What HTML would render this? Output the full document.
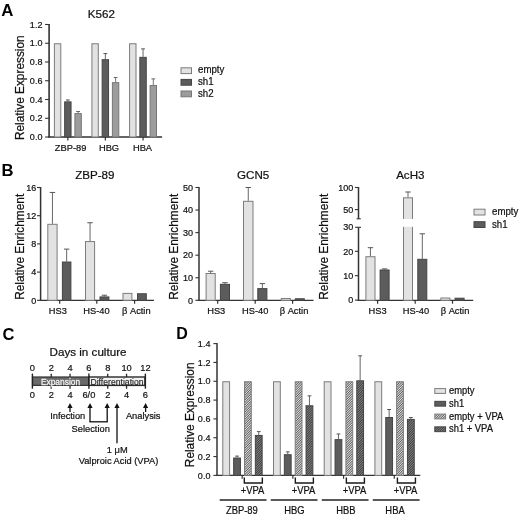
<!DOCTYPE html>
<html><head><meta charset="utf-8"><title>Figure</title>
<style>
html,body{margin:0;padding:0;background:#fff;}
body{width:520px;height:518px;overflow:hidden;font-family:"Liberation Sans",sans-serif;}
svg{display:block;font-family:"Liberation Sans",sans-serif;filter:blur(0.35px);}
</style></head><body>
<svg width="520" height="518" viewBox="0 0 520 518">
<defs>
<pattern id="hE" patternUnits="userSpaceOnUse" width="1.7" height="1.7" patternTransform="rotate(-45)">
<rect width="1.7" height="1.7" fill="#e2e2e2"/><rect width="1.7" height="0.85" fill="#5e5e5e"/>
</pattern>
<pattern id="hS" patternUnits="userSpaceOnUse" width="1.7" height="1.7" patternTransform="rotate(-45)">
<rect width="1.7" height="1.7" fill="#8a8a8a"/><rect width="1.7" height="0.9" fill="#3a3a3a"/>
</pattern>
</defs>
<rect width="520" height="518" fill="#fff"/>
<text transform="translate(1.3 15.5)" font-size="16.8" text-anchor="start" font-weight="bold" fill="#000">A</text>
<text transform="translate(101.3 18.3)" font-size="11.6" text-anchor="middle" font-weight="normal" fill="#111111" stroke="#111111" stroke-width="0.22">K562</text>
<line x1="49.10" y1="24.00" x2="49.10" y2="137.60" stroke="#333333" stroke-width="1.6"/>
<line x1="48.30" y1="137.00" x2="162.10" y2="137.00" stroke="#333333" stroke-width="1.3"/>
<line x1="45.10" y1="137.00" x2="49.10" y2="137.00" stroke="#333333" stroke-width="1.1"/>
<text transform="translate(42.4 140.2) scale(0.94 1)" font-size="9.6" text-anchor="end" font-weight="normal" fill="#111111" stroke="#111111" stroke-width="0.22">0.0</text>
<line x1="45.10" y1="118.25" x2="49.10" y2="118.25" stroke="#333333" stroke-width="1.1"/>
<text transform="translate(42.4 121.45) scale(0.94 1)" font-size="9.6" text-anchor="end" font-weight="normal" fill="#111111" stroke="#111111" stroke-width="0.22">0.2</text>
<line x1="45.10" y1="99.50" x2="49.10" y2="99.50" stroke="#333333" stroke-width="1.1"/>
<text transform="translate(42.4 102.7) scale(0.94 1)" font-size="9.6" text-anchor="end" font-weight="normal" fill="#111111" stroke="#111111" stroke-width="0.22">0.4</text>
<line x1="45.10" y1="80.75" x2="49.10" y2="80.75" stroke="#333333" stroke-width="1.1"/>
<text transform="translate(42.4 83.95) scale(0.94 1)" font-size="9.6" text-anchor="end" font-weight="normal" fill="#111111" stroke="#111111" stroke-width="0.22">0.6</text>
<line x1="45.10" y1="62.00" x2="49.10" y2="62.00" stroke="#333333" stroke-width="1.1"/>
<text transform="translate(42.4 65.2) scale(0.94 1)" font-size="9.6" text-anchor="end" font-weight="normal" fill="#111111" stroke="#111111" stroke-width="0.22">0.8</text>
<line x1="45.10" y1="43.25" x2="49.10" y2="43.25" stroke="#333333" stroke-width="1.1"/>
<text transform="translate(42.4 46.45) scale(0.94 1)" font-size="9.6" text-anchor="end" font-weight="normal" fill="#111111" stroke="#111111" stroke-width="0.22">1.0</text>
<line x1="45.10" y1="24.50" x2="49.10" y2="24.50" stroke="#333333" stroke-width="1.1"/>
<text transform="translate(42.4 27.699999999999985) scale(0.94 1)" font-size="9.6" text-anchor="end" font-weight="normal" fill="#111111" stroke="#111111" stroke-width="0.22">1.2</text>
<text transform="translate(23.9 87.7) rotate(-90) scale(0.98 1)" font-size="12.1" text-anchor="middle" font-weight="normal" fill="#111111" stroke="#111111" stroke-width="0.22">Relative Expression</text>
<rect x="54.40" y="43.75" width="6.40" height="93.25" fill="#e2e2e2" stroke="#7c7c7c" stroke-width="1"/>
<line x1="67.85" y1="101.38" x2="67.85" y2="99.97" stroke="#555" stroke-width="0.9"/>
<line x1="65.95" y1="99.97" x2="69.75" y2="99.97" stroke="#555" stroke-width="1"/>
<rect x="64.65" y="101.88" width="6.40" height="35.12" fill="#5c5c5c" stroke="#444444" stroke-width="1"/>
<line x1="78.10" y1="113.09" x2="78.10" y2="111.50" stroke="#666" stroke-width="0.9"/>
<line x1="76.20" y1="111.50" x2="80.00" y2="111.50" stroke="#666" stroke-width="1"/>
<rect x="74.90" y="113.59" width="6.40" height="23.41" fill="#9c9c9c" stroke="#777777" stroke-width="1"/>
<line x1="67.85" y1="137.00" x2="67.85" y2="140.50" stroke="#333" stroke-width="1.2"/>
<text transform="translate(70.6 150.7) scale(0.94 1)" font-size="9.9" text-anchor="middle" font-weight="normal" fill="#111111" stroke="#111111" stroke-width="0.22">ZBP-89</text>
<rect x="91.90" y="43.75" width="6.40" height="93.25" fill="#e2e2e2" stroke="#7c7c7c" stroke-width="1"/>
<line x1="105.35" y1="59.19" x2="105.35" y2="53.56" stroke="#555" stroke-width="0.9"/>
<line x1="103.45" y1="53.56" x2="107.25" y2="53.56" stroke="#555" stroke-width="1"/>
<rect x="102.15" y="59.69" width="6.40" height="77.31" fill="#5c5c5c" stroke="#444444" stroke-width="1"/>
<line x1="115.60" y1="82.16" x2="115.60" y2="77.47" stroke="#666" stroke-width="0.9"/>
<line x1="113.70" y1="77.47" x2="117.50" y2="77.47" stroke="#666" stroke-width="1"/>
<rect x="112.40" y="82.66" width="6.40" height="54.34" fill="#9c9c9c" stroke="#777777" stroke-width="1"/>
<line x1="105.35" y1="137.00" x2="105.35" y2="140.50" stroke="#333" stroke-width="1.2"/>
<text transform="translate(109.0 150.7) scale(0.94 1)" font-size="9.9" text-anchor="middle" font-weight="normal" fill="#111111" stroke="#111111" stroke-width="0.22">HBG</text>
<rect x="129.60" y="43.75" width="6.40" height="93.25" fill="#e2e2e2" stroke="#7c7c7c" stroke-width="1"/>
<line x1="143.05" y1="56.84" x2="143.05" y2="48.88" stroke="#555" stroke-width="0.9"/>
<line x1="141.15" y1="48.88" x2="144.95" y2="48.88" stroke="#555" stroke-width="1"/>
<rect x="139.85" y="57.34" width="6.40" height="79.66" fill="#5c5c5c" stroke="#444444" stroke-width="1"/>
<line x1="153.30" y1="84.97" x2="153.30" y2="78.88" stroke="#666" stroke-width="0.9"/>
<line x1="151.40" y1="78.88" x2="155.20" y2="78.88" stroke="#666" stroke-width="1"/>
<rect x="150.10" y="85.47" width="6.40" height="51.53" fill="#9c9c9c" stroke="#777777" stroke-width="1"/>
<line x1="143.05" y1="137.00" x2="143.05" y2="140.50" stroke="#333" stroke-width="1.2"/>
<text transform="translate(142.5 150.7) scale(0.94 1)" font-size="9.9" text-anchor="middle" font-weight="normal" fill="#111111" stroke="#111111" stroke-width="0.22">HBA</text>
<rect x="181" y="67.80" width="10.5" height="5.8" fill="#e2e2e2" stroke="#7c7c7c" stroke-width="1"/>
<text transform="translate(198 73.39999999999999) scale(0.95 1)" font-size="10.2" text-anchor="start" font-weight="normal" fill="#111111" stroke="#111111" stroke-width="0.22">empty</text>
<rect x="181" y="79.40" width="10.5" height="5.8" fill="#5c5c5c" stroke="#444444" stroke-width="1"/>
<text transform="translate(198 84.99999999999999) scale(0.95 1)" font-size="10.2" text-anchor="start" font-weight="normal" fill="#111111" stroke="#111111" stroke-width="0.22">sh1</text>
<rect x="181" y="91.00" width="10.5" height="5.8" fill="#9c9c9c" stroke="#777777" stroke-width="1"/>
<text transform="translate(198 96.6) scale(0.95 1)" font-size="10.2" text-anchor="start" font-weight="normal" fill="#111111" stroke="#111111" stroke-width="0.22">sh2</text>
<text transform="translate(1.6 175.6)" font-size="16.6" text-anchor="start" font-weight="bold" fill="#000">B</text>
<text transform="translate(94.8 179.3)" font-size="11.6" text-anchor="middle" font-weight="normal" fill="#111111" stroke="#111111" stroke-width="0.22">ZBP-89</text>
<line x1="40.60" y1="187.00" x2="40.60" y2="300.90" stroke="#333333" stroke-width="1.5"/>
<line x1="39.90" y1="300.30" x2="154.00" y2="300.30" stroke="#333333" stroke-width="1.3"/>
<line x1="37.00" y1="300.30" x2="40.60" y2="300.30" stroke="#333333" stroke-width="1.1"/>
<text transform="translate(36.2 303.5) scale(0.94 1)" font-size="9.6" text-anchor="end" font-weight="normal" fill="#111111" stroke="#111111" stroke-width="0.22">0</text>
<line x1="37.00" y1="272.10" x2="40.60" y2="272.10" stroke="#333333" stroke-width="1.1"/>
<text transform="translate(36.2 275.3) scale(0.94 1)" font-size="9.6" text-anchor="end" font-weight="normal" fill="#111111" stroke="#111111" stroke-width="0.22">4</text>
<line x1="37.00" y1="243.90" x2="40.60" y2="243.90" stroke="#333333" stroke-width="1.1"/>
<text transform="translate(36.2 247.1) scale(0.94 1)" font-size="9.6" text-anchor="end" font-weight="normal" fill="#111111" stroke="#111111" stroke-width="0.22">8</text>
<line x1="37.00" y1="215.70" x2="40.60" y2="215.70" stroke="#333333" stroke-width="1.1"/>
<text transform="translate(36.2 218.89999999999998) scale(0.94 1)" font-size="9.6" text-anchor="end" font-weight="normal" fill="#111111" stroke="#111111" stroke-width="0.22">12</text>
<line x1="37.00" y1="187.50" x2="40.60" y2="187.50" stroke="#333333" stroke-width="1.1"/>
<text transform="translate(36.2 190.7) scale(0.94 1)" font-size="9.6" text-anchor="end" font-weight="normal" fill="#111111" stroke="#111111" stroke-width="0.22">16</text>
<text transform="translate(23.5 246.8) rotate(-90) scale(0.98 1)" font-size="12.1" text-anchor="middle" font-weight="normal" fill="#111111" stroke="#111111" stroke-width="0.22">Relative Enrichment</text>
<line x1="52.45" y1="223.81" x2="52.45" y2="192.44" stroke="#555" stroke-width="0.9"/>
<line x1="49.75" y1="192.44" x2="55.15" y2="192.44" stroke="#555" stroke-width="1"/>
<rect x="47.80" y="224.31" width="9.30" height="75.99" fill="#e2e2e2" stroke="#7c7c7c" stroke-width="1"/>
<line x1="66.65" y1="261.52" x2="66.65" y2="249.12" stroke="#555" stroke-width="0.9"/>
<line x1="63.95" y1="249.12" x2="69.35" y2="249.12" stroke="#555" stroke-width="1"/>
<rect x="62.40" y="262.02" width="8.50" height="38.28" fill="#5c5c5c" stroke="#444444" stroke-width="1"/>
<line x1="90.05" y1="241.08" x2="90.05" y2="222.75" stroke="#555" stroke-width="0.9"/>
<line x1="87.35" y1="222.75" x2="92.75" y2="222.75" stroke="#555" stroke-width="1"/>
<rect x="85.50" y="241.58" width="9.10" height="58.72" fill="#e2e2e2" stroke="#7c7c7c" stroke-width="1"/>
<line x1="104.45" y1="296.42" x2="104.45" y2="295.22" stroke="#555" stroke-width="0.9"/>
<line x1="101.75" y1="295.22" x2="107.15" y2="295.22" stroke="#555" stroke-width="1"/>
<rect x="100.00" y="296.92" width="8.90" height="3.38" fill="#5c5c5c" stroke="#444444" stroke-width="1"/>
<rect x="123.00" y="293.40" width="8.90" height="6.90" fill="#e2e2e2" stroke="#7c7c7c" stroke-width="1"/>
<rect x="137.50" y="293.75" width="8.80" height="6.55" fill="#5c5c5c" stroke="#444444" stroke-width="1"/>
<line x1="59.70" y1="300.30" x2="59.70" y2="303.70" stroke="#333" stroke-width="1.2"/>
<text transform="translate(57.8 314.3) scale(0.94 1)" font-size="9.9" text-anchor="middle" font-weight="normal" fill="#111111" stroke="#111111" stroke-width="0.22">HS3</text>
<line x1="96.80" y1="300.30" x2="96.80" y2="303.70" stroke="#333" stroke-width="1.2"/>
<text transform="translate(96.5 314.3) scale(0.94 1)" font-size="9.9" text-anchor="middle" font-weight="normal" fill="#111111" stroke="#111111" stroke-width="0.22">HS-40</text>
<line x1="134.60" y1="300.30" x2="134.60" y2="303.70" stroke="#333" stroke-width="1.2"/>
<text transform="translate(136.3 314.3) scale(0.94 1)" font-size="9.9" text-anchor="middle" font-weight="normal" fill="#111111" stroke="#111111" stroke-width="0.22">β Actin</text>
<text transform="translate(253.1 179.3)" font-size="11.6" text-anchor="middle" font-weight="normal" fill="#111111" stroke="#111111" stroke-width="0.22">GCN5</text>
<line x1="199.00" y1="187.00" x2="199.00" y2="300.90" stroke="#333333" stroke-width="1.5"/>
<line x1="198.30" y1="300.30" x2="313.50" y2="300.30" stroke="#333333" stroke-width="1.3"/>
<line x1="195.40" y1="300.30" x2="199.00" y2="300.30" stroke="#333333" stroke-width="1.1"/>
<text transform="translate(192.9 303.5) scale(0.94 1)" font-size="9.6" text-anchor="end" font-weight="normal" fill="#111111" stroke="#111111" stroke-width="0.22">0</text>
<line x1="195.40" y1="277.74" x2="199.00" y2="277.74" stroke="#333333" stroke-width="1.1"/>
<text transform="translate(192.9 280.94) scale(0.94 1)" font-size="9.6" text-anchor="end" font-weight="normal" fill="#111111" stroke="#111111" stroke-width="0.22">10</text>
<line x1="195.40" y1="255.18" x2="199.00" y2="255.18" stroke="#333333" stroke-width="1.1"/>
<text transform="translate(192.9 258.38) scale(0.94 1)" font-size="9.6" text-anchor="end" font-weight="normal" fill="#111111" stroke="#111111" stroke-width="0.22">20</text>
<line x1="195.40" y1="232.62" x2="199.00" y2="232.62" stroke="#333333" stroke-width="1.1"/>
<text transform="translate(192.9 235.82) scale(0.94 1)" font-size="9.6" text-anchor="end" font-weight="normal" fill="#111111" stroke="#111111" stroke-width="0.22">30</text>
<line x1="195.40" y1="210.06" x2="199.00" y2="210.06" stroke="#333333" stroke-width="1.1"/>
<text transform="translate(192.9 213.26) scale(0.94 1)" font-size="9.6" text-anchor="end" font-weight="normal" fill="#111111" stroke="#111111" stroke-width="0.22">40</text>
<line x1="195.40" y1="187.50" x2="199.00" y2="187.50" stroke="#333333" stroke-width="1.1"/>
<text transform="translate(192.9 190.7) scale(0.94 1)" font-size="9.6" text-anchor="end" font-weight="normal" fill="#111111" stroke="#111111" stroke-width="0.22">50</text>
<text transform="translate(177.8 246.8) rotate(-90) scale(0.98 1)" font-size="12.1" text-anchor="middle" font-weight="normal" fill="#111111" stroke="#111111" stroke-width="0.22">Relative Enrichment</text>
<line x1="210.65" y1="273.00" x2="210.65" y2="271.20" stroke="#555" stroke-width="0.9"/>
<line x1="207.95" y1="271.20" x2="213.35" y2="271.20" stroke="#555" stroke-width="1"/>
<rect x="206.10" y="273.50" width="9.10" height="26.80" fill="#e2e2e2" stroke="#7c7c7c" stroke-width="1"/>
<line x1="224.95" y1="283.83" x2="224.95" y2="282.70" stroke="#555" stroke-width="0.9"/>
<line x1="222.25" y1="282.70" x2="227.65" y2="282.70" stroke="#555" stroke-width="1"/>
<rect x="220.40" y="284.33" width="9.10" height="15.97" fill="#5c5c5c" stroke="#444444" stroke-width="1"/>
<line x1="248.25" y1="200.81" x2="248.25" y2="187.50" stroke="#555" stroke-width="0.9"/>
<line x1="245.55" y1="187.50" x2="250.95" y2="187.50" stroke="#555" stroke-width="1"/>
<rect x="243.50" y="201.31" width="9.50" height="98.99" fill="#e2e2e2" stroke="#7c7c7c" stroke-width="1"/>
<line x1="262.35" y1="288.12" x2="262.35" y2="283.61" stroke="#555" stroke-width="0.9"/>
<line x1="259.65" y1="283.61" x2="265.05" y2="283.61" stroke="#555" stroke-width="1"/>
<rect x="257.80" y="288.62" width="9.10" height="11.68" fill="#5c5c5c" stroke="#444444" stroke-width="1"/>
<rect x="281.30" y="298.54" width="9.10" height="1.76" fill="#e2e2e2" stroke="#7c7c7c" stroke-width="1"/>
<rect x="295.30" y="298.77" width="9.00" height="1.53" fill="#5c5c5c" stroke="#444444" stroke-width="1"/>
<line x1="217.70" y1="300.30" x2="217.70" y2="303.70" stroke="#333" stroke-width="1.2"/>
<text transform="translate(216.2 314.3) scale(0.94 1)" font-size="9.9" text-anchor="middle" font-weight="normal" fill="#111111" stroke="#111111" stroke-width="0.22">HS3</text>
<line x1="255.20" y1="300.30" x2="255.20" y2="303.70" stroke="#333" stroke-width="1.2"/>
<text transform="translate(255.2 314.3) scale(0.94 1)" font-size="9.9" text-anchor="middle" font-weight="normal" fill="#111111" stroke="#111111" stroke-width="0.22">HS-40</text>
<line x1="292.60" y1="300.30" x2="292.60" y2="303.70" stroke="#333" stroke-width="1.2"/>
<text transform="translate(294.0 314.3) scale(0.94 1)" font-size="9.9" text-anchor="middle" font-weight="normal" fill="#111111" stroke="#111111" stroke-width="0.22">β Actin</text>
<text transform="translate(410.3 179.3)" font-size="11.6" text-anchor="middle" font-weight="normal" fill="#111111" stroke="#111111" stroke-width="0.22">AcH3</text>
<line x1="358.50" y1="187.00" x2="358.50" y2="218.80" stroke="#333333" stroke-width="1.5"/>
<line x1="358.50" y1="227.30" x2="358.50" y2="300.90" stroke="#333333" stroke-width="1.5"/>
<line x1="357.80" y1="300.30" x2="473.20" y2="300.30" stroke="#333333" stroke-width="1.3"/>
<line x1="356.60" y1="218.80" x2="360.80" y2="218.80" stroke="#333333" stroke-width="1.1"/>
<line x1="355.10" y1="227.30" x2="361.00" y2="227.30" stroke="#333333" stroke-width="1.1"/>
<line x1="354.90" y1="300.10" x2="358.50" y2="300.10" stroke="#333333" stroke-width="1.1"/>
<text transform="translate(353.3 303.3) scale(0.94 1)" font-size="9.6" text-anchor="end" font-weight="normal" fill="#111111" stroke="#111111" stroke-width="0.22">0</text>
<line x1="354.90" y1="275.70" x2="358.50" y2="275.70" stroke="#333333" stroke-width="1.1"/>
<text transform="translate(353.3 278.90000000000003) scale(0.94 1)" font-size="9.6" text-anchor="end" font-weight="normal" fill="#111111" stroke="#111111" stroke-width="0.22">10</text>
<line x1="354.90" y1="251.30" x2="358.50" y2="251.30" stroke="#333333" stroke-width="1.1"/>
<text transform="translate(353.3 254.5) scale(0.94 1)" font-size="9.6" text-anchor="end" font-weight="normal" fill="#111111" stroke="#111111" stroke-width="0.22">20</text>
<text transform="translate(353.3 230.10000000000002) scale(0.94 1)" font-size="9.6" text-anchor="end" font-weight="normal" fill="#111111" stroke="#111111" stroke-width="0.22">30</text>
<line x1="354.90" y1="209.60" x2="358.50" y2="209.60" stroke="#333333" stroke-width="1.1"/>
<text transform="translate(353.3 212.79999999999998) scale(0.94 1)" font-size="9.6" text-anchor="end" font-weight="normal" fill="#111111" stroke="#111111" stroke-width="0.22">50</text>
<line x1="354.90" y1="187.50" x2="358.50" y2="187.50" stroke="#333333" stroke-width="1.1"/>
<text transform="translate(353.3 190.7) scale(0.94 1)" font-size="9.6" text-anchor="end" font-weight="normal" fill="#111111" stroke="#111111" stroke-width="0.22">100</text>
<text transform="translate(328.2 246.8) rotate(-90) scale(0.98 1)" font-size="12.1" text-anchor="middle" font-weight="normal" fill="#111111" stroke="#111111" stroke-width="0.22">Relative Enrichment</text>
<line x1="370.45" y1="256.20" x2="370.45" y2="247.70" stroke="#555" stroke-width="0.9"/>
<line x1="367.75" y1="247.70" x2="373.15" y2="247.70" stroke="#555" stroke-width="1"/>
<rect x="365.90" y="256.70" width="9.10" height="43.60" fill="#e2e2e2" stroke="#7c7c7c" stroke-width="1"/>
<line x1="384.60" y1="269.50" x2="384.60" y2="268.90" stroke="#555" stroke-width="0.9"/>
<line x1="381.90" y1="268.90" x2="387.30" y2="268.90" stroke="#555" stroke-width="1"/>
<rect x="380.10" y="270.00" width="9.00" height="30.30" fill="#5c5c5c" stroke="#444444" stroke-width="1"/>
<line x1="408.00" y1="197.30" x2="408.00" y2="192.00" stroke="#555" stroke-width="0.9"/>
<line x1="405.30" y1="192.00" x2="410.70" y2="192.00" stroke="#555" stroke-width="1"/>
<rect x="403.50" y="197.80" width="9.00" height="102.50" fill="#e2e2e2" stroke="#7c7c7c" stroke-width="1"/>
<line x1="422.30" y1="258.80" x2="422.30" y2="233.80" stroke="#555" stroke-width="0.9"/>
<line x1="419.60" y1="233.80" x2="425.00" y2="233.80" stroke="#555" stroke-width="1"/>
<rect x="417.80" y="259.30" width="9.00" height="41.00" fill="#5c5c5c" stroke="#444444" stroke-width="1"/>
<rect x="440.90" y="298.00" width="9.00" height="2.30" fill="#e2e2e2" stroke="#7c7c7c" stroke-width="1"/>
<rect x="455.10" y="298.20" width="9.00" height="2.10" fill="#5c5c5c" stroke="#444444" stroke-width="1"/>
<rect x="401" y="219.0" width="14" height="7.8" fill="#fff"/>
<line x1="377.60" y1="300.30" x2="377.60" y2="303.70" stroke="#333" stroke-width="1.2"/>
<text transform="translate(377.6 314.3) scale(0.94 1)" font-size="9.9" text-anchor="middle" font-weight="normal" fill="#111111" stroke="#111111" stroke-width="0.22">HS3</text>
<line x1="415.20" y1="300.30" x2="415.20" y2="303.70" stroke="#333" stroke-width="1.2"/>
<text transform="translate(416 314.3) scale(0.94 1)" font-size="9.9" text-anchor="middle" font-weight="normal" fill="#111111" stroke="#111111" stroke-width="0.22">HS-40</text>
<line x1="452.50" y1="300.30" x2="452.50" y2="303.70" stroke="#333" stroke-width="1.2"/>
<text transform="translate(455 314.3) scale(0.94 1)" font-size="9.9" text-anchor="middle" font-weight="normal" fill="#111111" stroke="#111111" stroke-width="0.22">β Actin</text>
<rect x="474" y="209.20" width="11" height="5.8" fill="#e2e2e2" stroke="#7c7c7c" stroke-width="1"/>
<text transform="translate(492 215.0) scale(0.95 1)" font-size="10.2" text-anchor="start" font-weight="normal" fill="#111111" stroke="#111111" stroke-width="0.22">empty</text>
<rect x="474" y="221.70" width="11" height="5.8" fill="#5c5c5c" stroke="#444444" stroke-width="1"/>
<text transform="translate(492 227.5) scale(0.95 1)" font-size="10.2" text-anchor="start" font-weight="normal" fill="#111111" stroke="#111111" stroke-width="0.22">sh1</text>
<text transform="translate(2.6 339.8)" font-size="16.5" text-anchor="start" font-weight="bold" fill="#000">C</text>
<text transform="translate(88.0 355.6) scale(1.03 1)" font-size="11.3" text-anchor="middle" font-weight="normal" fill="#111111" stroke="#111111" stroke-width="0.22">Days in culture</text>
<text transform="translate(32.4 370.6) scale(0.94 1)" font-size="9.9" text-anchor="middle" font-weight="normal" fill="#111111" stroke="#111111" stroke-width="0.22">0</text>
<text transform="translate(51.23 370.6) scale(0.94 1)" font-size="9.9" text-anchor="middle" font-weight="normal" fill="#111111" stroke="#111111" stroke-width="0.22">2</text>
<text transform="translate(70.06 370.6) scale(0.94 1)" font-size="9.9" text-anchor="middle" font-weight="normal" fill="#111111" stroke="#111111" stroke-width="0.22">4</text>
<text transform="translate(88.88999999999999 370.6) scale(0.94 1)" font-size="9.9" text-anchor="middle" font-weight="normal" fill="#111111" stroke="#111111" stroke-width="0.22">6</text>
<text transform="translate(107.72 370.6) scale(0.94 1)" font-size="9.9" text-anchor="middle" font-weight="normal" fill="#111111" stroke="#111111" stroke-width="0.22">8</text>
<text transform="translate(126.54999999999998 370.6) scale(0.94 1)" font-size="9.9" text-anchor="middle" font-weight="normal" fill="#111111" stroke="#111111" stroke-width="0.22">10</text>
<text transform="translate(145.38 370.6) scale(0.94 1)" font-size="9.9" text-anchor="middle" font-weight="normal" fill="#111111" stroke="#111111" stroke-width="0.22">12</text>
<text transform="translate(32.4 398.4) scale(0.94 1)" font-size="9.9" text-anchor="middle" font-weight="normal" fill="#111111" stroke="#111111" stroke-width="0.22">0</text>
<text transform="translate(51.23 398.4) scale(0.94 1)" font-size="9.9" text-anchor="middle" font-weight="normal" fill="#111111" stroke="#111111" stroke-width="0.22">2</text>
<text transform="translate(70.06 398.4) scale(0.94 1)" font-size="9.9" text-anchor="middle" font-weight="normal" fill="#111111" stroke="#111111" stroke-width="0.22">4</text>
<text transform="translate(88.88999999999999 398.4) scale(0.94 1)" font-size="9.9" text-anchor="middle" font-weight="normal" fill="#111111" stroke="#111111" stroke-width="0.22">6/0</text>
<text transform="translate(107.72 398.4) scale(0.94 1)" font-size="9.9" text-anchor="middle" font-weight="normal" fill="#111111" stroke="#111111" stroke-width="0.22">2</text>
<text transform="translate(126.54999999999998 398.4) scale(0.94 1)" font-size="9.9" text-anchor="middle" font-weight="normal" fill="#111111" stroke="#111111" stroke-width="0.22">4</text>
<text transform="translate(145.38 398.4) scale(0.94 1)" font-size="9.9" text-anchor="middle" font-weight="normal" fill="#111111" stroke="#111111" stroke-width="0.22">6</text>
<rect x="32.5" y="377.0" width="56.2" height="8.399999999999977" fill="#6a6a6a" stroke="#333" stroke-width="1.2"/>
<rect x="88.7" y="377.0" width="56.2" height="8.399999999999977" fill="#f2f2f2" stroke="#2a2a2a" stroke-width="1.4"/>
<line x1="32.40" y1="373.60" x2="32.40" y2="388.70" stroke="#222" stroke-width="1.4"/>
<line x1="51.23" y1="373.70" x2="51.23" y2="377.00" stroke="#2a2a2a" stroke-width="1.3"/>
<line x1="51.23" y1="385.40" x2="51.23" y2="388.80" stroke="#2a2a2a" stroke-width="1.3"/>
<line x1="70.06" y1="373.70" x2="70.06" y2="377.00" stroke="#2a2a2a" stroke-width="1.3"/>
<line x1="70.06" y1="385.40" x2="70.06" y2="388.80" stroke="#2a2a2a" stroke-width="1.3"/>
<line x1="88.89" y1="373.60" x2="88.89" y2="388.70" stroke="#222" stroke-width="1.4"/>
<line x1="107.72" y1="373.70" x2="107.72" y2="377.00" stroke="#2a2a2a" stroke-width="1.3"/>
<line x1="107.72" y1="385.40" x2="107.72" y2="388.80" stroke="#2a2a2a" stroke-width="1.3"/>
<line x1="126.55" y1="373.70" x2="126.55" y2="377.00" stroke="#2a2a2a" stroke-width="1.3"/>
<line x1="126.55" y1="385.40" x2="126.55" y2="388.80" stroke="#2a2a2a" stroke-width="1.3"/>
<line x1="145.38" y1="373.60" x2="145.38" y2="388.70" stroke="#222" stroke-width="1.4"/>
<text transform="translate(60.5 384.6) scale(0.875 1)" font-size="9.6" text-anchor="middle" font-weight="normal" fill="#f4f4f4" stroke="#f4f4f4" stroke-width="0.25">Expansion</text>
<text transform="translate(117.0 384.6) scale(0.9 1)" font-size="9.6" text-anchor="middle" font-weight="normal" fill="#222" stroke="#222" stroke-width="0.15">Differentiation</text>
<line x1="70.00" y1="405.00" x2="70.00" y2="412.00" stroke="#111" stroke-width="1.3"/>
<path d="M70.0 403.0 L67.4 408.0 L72.6 408.0 Z" fill="#111"/>
<line x1="145.60" y1="405.00" x2="145.60" y2="412.00" stroke="#111" stroke-width="1.3"/>
<path d="M145.6 403.0 L143.0 408.0 L148.2 408.0 Z" fill="#111"/>
<line x1="90.00" y1="405.00" x2="90.00" y2="421.80" stroke="#111" stroke-width="1.3"/>
<path d="M90 403.0 L87.4 408.0 L92.6 408.0 Z" fill="#111"/>
<line x1="107.20" y1="405.00" x2="107.20" y2="421.80" stroke="#111" stroke-width="1.3"/>
<path d="M107.2 403.0 L104.60000000000001 408.0 L109.8 408.0 Z" fill="#111"/>
<line x1="89.35" y1="421.80" x2="107.85" y2="421.80" stroke="#111" stroke-width="1.3"/>
<line x1="117.00" y1="405.00" x2="117.00" y2="443.20" stroke="#111" stroke-width="1.3"/>
<path d="M117 403.0 L114.4 408.0 L119.6 408.0 Z" fill="#111"/>
<text transform="translate(67.7 419.0) scale(0.94 1)" font-size="9.9" text-anchor="middle" font-weight="normal" fill="#111111" stroke="#111111" stroke-width="0.22">Infection</text>
<text transform="translate(143.2 419.0) scale(0.94 1)" font-size="9.9" text-anchor="middle" font-weight="normal" fill="#111111" stroke="#111111" stroke-width="0.22">Analysis</text>
<text transform="translate(90.7 432.4) scale(0.94 1)" font-size="9.9" text-anchor="middle" font-weight="normal" fill="#111111" stroke="#111111" stroke-width="0.22">Selection</text>
<text transform="translate(117.3 453.2) scale(0.94 1)" font-size="9.9" text-anchor="middle" font-weight="normal" fill="#111111" stroke="#111111" stroke-width="0.22">1 μM</text>
<text transform="translate(118.5 463.9) scale(0.94 1)" font-size="9.9" text-anchor="middle" font-weight="normal" fill="#111111" stroke="#111111" stroke-width="0.22">Valproic Acid (VPA)</text>
<text transform="translate(176.3 339)" font-size="16" text-anchor="start" font-weight="bold" fill="#000">D</text>
<line x1="217.00" y1="343.10" x2="217.00" y2="476.00" stroke="#333333" stroke-width="1.5"/>
<line x1="216.30" y1="475.40" x2="420.30" y2="475.40" stroke="#333333" stroke-width="1.3"/>
<line x1="213.40" y1="475.40" x2="217.00" y2="475.40" stroke="#333333" stroke-width="1.1"/>
<text transform="translate(210.4 478.59999999999997) scale(0.94 1)" font-size="9.6" text-anchor="end" font-weight="normal" fill="#111111" stroke="#111111" stroke-width="0.22">0.0</text>
<line x1="213.40" y1="456.57" x2="217.00" y2="456.57" stroke="#333333" stroke-width="1.1"/>
<text transform="translate(210.4 459.77142857142854) scale(0.94 1)" font-size="9.6" text-anchor="end" font-weight="normal" fill="#111111" stroke="#111111" stroke-width="0.22">0.2</text>
<line x1="213.40" y1="437.74" x2="217.00" y2="437.74" stroke="#333333" stroke-width="1.1"/>
<text transform="translate(210.4 440.9428571428571) scale(0.94 1)" font-size="9.6" text-anchor="end" font-weight="normal" fill="#111111" stroke="#111111" stroke-width="0.22">0.4</text>
<line x1="213.40" y1="418.91" x2="217.00" y2="418.91" stroke="#333333" stroke-width="1.1"/>
<text transform="translate(210.4 422.1142857142857) scale(0.94 1)" font-size="9.6" text-anchor="end" font-weight="normal" fill="#111111" stroke="#111111" stroke-width="0.22">0.6</text>
<line x1="213.40" y1="400.09" x2="217.00" y2="400.09" stroke="#333333" stroke-width="1.1"/>
<text transform="translate(210.4 403.2857142857143) scale(0.94 1)" font-size="9.6" text-anchor="end" font-weight="normal" fill="#111111" stroke="#111111" stroke-width="0.22">0.8</text>
<line x1="213.40" y1="381.26" x2="217.00" y2="381.26" stroke="#333333" stroke-width="1.1"/>
<text transform="translate(210.4 384.45714285714286) scale(0.94 1)" font-size="9.6" text-anchor="end" font-weight="normal" fill="#111111" stroke="#111111" stroke-width="0.22">1.0</text>
<line x1="213.40" y1="362.43" x2="217.00" y2="362.43" stroke="#333333" stroke-width="1.1"/>
<text transform="translate(210.4 365.62857142857143) scale(0.94 1)" font-size="9.6" text-anchor="end" font-weight="normal" fill="#111111" stroke="#111111" stroke-width="0.22">1.2</text>
<line x1="213.40" y1="343.60" x2="217.00" y2="343.60" stroke="#333333" stroke-width="1.1"/>
<text transform="translate(210.4 346.8) scale(0.94 1)" font-size="9.6" text-anchor="end" font-weight="normal" fill="#111111" stroke="#111111" stroke-width="0.22">1.4</text>
<text transform="translate(194.2 414.8) rotate(-90) scale(0.98 1)" font-size="12.1" text-anchor="middle" font-weight="normal" fill="#111111" stroke="#111111" stroke-width="0.22">Relative Expression</text>
<rect x="222.80" y="381.76" width="6.80" height="93.64" fill="#e2e2e2" stroke="#7c7c7c" stroke-width="1"/>
<line x1="237.05" y1="457.51" x2="237.05" y2="456.10" stroke="#555" stroke-width="0.9"/>
<line x1="235.15" y1="456.10" x2="238.95" y2="456.10" stroke="#555" stroke-width="1"/>
<rect x="233.65" y="458.01" width="6.80" height="17.39" fill="#5c5c5c" stroke="#444444" stroke-width="1"/>
<rect x="244.50" y="381.76" width="6.80" height="93.64" fill="url(#hE)" stroke="#7c7c7c" stroke-width="1"/>
<line x1="258.75" y1="434.92" x2="258.75" y2="431.62" stroke="#555" stroke-width="0.9"/>
<line x1="256.85" y1="431.62" x2="260.65" y2="431.62" stroke="#555" stroke-width="1"/>
<rect x="255.35" y="435.42" width="6.80" height="39.98" fill="url(#hS)" stroke="#444444" stroke-width="1"/>
<line x1="242.18" y1="475.40" x2="242.18" y2="478.80" stroke="#333" stroke-width="1.2"/>
<path d="M244.30 477.59999999999997 L244.30 483.0 L262.35 483.0 L262.35 477.59999999999997" fill="none" stroke="#1a1a1a" stroke-width="1.4"/>
<text transform="translate(252.425 494) scale(0.94 1)" font-size="10.0" text-anchor="middle" font-weight="normal" fill="#111111" stroke="#111111" stroke-width="0.22">+VPA</text>
<line x1="219.70" y1="500.00" x2="266.50" y2="500.00" stroke="#222" stroke-width="1.5"/>
<text transform="translate(241.9 513.8) scale(0.94 1)" font-size="10.0" text-anchor="middle" font-weight="normal" fill="#111111" stroke="#111111" stroke-width="0.22">ZBP-89</text>
<rect x="273.50" y="381.76" width="6.80" height="93.64" fill="#e2e2e2" stroke="#7c7c7c" stroke-width="1"/>
<line x1="287.75" y1="454.22" x2="287.75" y2="451.86" stroke="#555" stroke-width="0.9"/>
<line x1="285.85" y1="451.86" x2="289.65" y2="451.86" stroke="#555" stroke-width="1"/>
<rect x="284.35" y="454.72" width="6.80" height="20.68" fill="#5c5c5c" stroke="#444444" stroke-width="1"/>
<rect x="295.20" y="381.76" width="6.80" height="93.64" fill="url(#hE)" stroke="#7c7c7c" stroke-width="1"/>
<line x1="309.45" y1="405.26" x2="309.45" y2="395.85" stroke="#555" stroke-width="0.9"/>
<line x1="307.55" y1="395.85" x2="311.35" y2="395.85" stroke="#555" stroke-width="1"/>
<rect x="306.05" y="405.76" width="6.80" height="69.64" fill="url(#hS)" stroke="#444444" stroke-width="1"/>
<line x1="292.87" y1="475.40" x2="292.87" y2="478.80" stroke="#333" stroke-width="1.2"/>
<path d="M295.33 477.59999999999997 L295.33 483.0 L313.38 483.0 L313.38 477.59999999999997" fill="none" stroke="#1a1a1a" stroke-width="1.4"/>
<text transform="translate(303.45500000000004 494) scale(0.94 1)" font-size="10.0" text-anchor="middle" font-weight="normal" fill="#111111" stroke="#111111" stroke-width="0.22">+VPA</text>
<line x1="270.73" y1="500.00" x2="317.53" y2="500.00" stroke="#222" stroke-width="1.5"/>
<text transform="translate(294.33 513.8) scale(0.94 1)" font-size="10.0" text-anchor="middle" font-weight="normal" fill="#111111" stroke="#111111" stroke-width="0.22">HBG</text>
<rect x="324.20" y="381.76" width="6.80" height="93.64" fill="#e2e2e2" stroke="#7c7c7c" stroke-width="1"/>
<line x1="338.45" y1="439.15" x2="338.45" y2="433.98" stroke="#555" stroke-width="0.9"/>
<line x1="336.55" y1="433.98" x2="340.35" y2="433.98" stroke="#555" stroke-width="1"/>
<rect x="335.05" y="439.65" width="6.80" height="35.75" fill="#5c5c5c" stroke="#444444" stroke-width="1"/>
<rect x="345.90" y="381.76" width="6.80" height="93.64" fill="url(#hE)" stroke="#7c7c7c" stroke-width="1"/>
<line x1="360.15" y1="380.32" x2="360.15" y2="355.84" stroke="#555" stroke-width="0.9"/>
<line x1="358.25" y1="355.84" x2="362.05" y2="355.84" stroke="#555" stroke-width="1"/>
<rect x="356.75" y="380.82" width="6.80" height="94.58" fill="url(#hS)" stroke="#444444" stroke-width="1"/>
<line x1="343.57" y1="475.40" x2="343.57" y2="478.80" stroke="#333" stroke-width="1.2"/>
<path d="M346.36 477.59999999999997 L346.36 483.0 L364.41 483.0 L364.41 477.59999999999997" fill="none" stroke="#1a1a1a" stroke-width="1.4"/>
<text transform="translate(354.4850000000001 494) scale(0.94 1)" font-size="10.0" text-anchor="middle" font-weight="normal" fill="#111111" stroke="#111111" stroke-width="0.22">+VPA</text>
<line x1="321.76" y1="500.00" x2="368.56" y2="500.00" stroke="#222" stroke-width="1.5"/>
<text transform="translate(345.86000000000007 513.8) scale(0.94 1)" font-size="10.0" text-anchor="middle" font-weight="normal" fill="#111111" stroke="#111111" stroke-width="0.22">HBB</text>
<rect x="374.90" y="381.76" width="6.80" height="93.64" fill="#e2e2e2" stroke="#7c7c7c" stroke-width="1"/>
<line x1="389.15" y1="417.03" x2="389.15" y2="409.50" stroke="#555" stroke-width="0.9"/>
<line x1="387.25" y1="409.50" x2="391.05" y2="409.50" stroke="#555" stroke-width="1"/>
<rect x="385.75" y="417.53" width="6.80" height="57.87" fill="#5c5c5c" stroke="#444444" stroke-width="1"/>
<rect x="396.60" y="381.76" width="6.80" height="93.64" fill="url(#hE)" stroke="#7c7c7c" stroke-width="1"/>
<line x1="410.85" y1="418.91" x2="410.85" y2="417.50" stroke="#555" stroke-width="0.9"/>
<line x1="408.95" y1="417.50" x2="412.75" y2="417.50" stroke="#555" stroke-width="1"/>
<rect x="407.45" y="419.41" width="6.80" height="55.99" fill="url(#hS)" stroke="#444444" stroke-width="1"/>
<line x1="394.27" y1="475.40" x2="394.27" y2="478.80" stroke="#333" stroke-width="1.2"/>
<path d="M397.39 477.59999999999997 L397.39 483.0 L415.44 483.0 L415.44 477.59999999999997" fill="none" stroke="#1a1a1a" stroke-width="1.4"/>
<text transform="translate(405.5150000000001 494) scale(0.94 1)" font-size="10.0" text-anchor="middle" font-weight="normal" fill="#111111" stroke="#111111" stroke-width="0.22">+VPA</text>
<line x1="372.79" y1="500.00" x2="419.59" y2="500.00" stroke="#222" stroke-width="1.5"/>
<text transform="translate(394.99000000000007 513.8) scale(0.94 1)" font-size="10.0" text-anchor="middle" font-weight="normal" fill="#111111" stroke="#111111" stroke-width="0.22">HBA</text>
<rect x="434.8" y="388.60" width="10.8" height="4.8" fill="#e2e2e2" stroke="#7c7c7c" stroke-width="1"/>
<text transform="translate(449 394.2) scale(0.94 1)" font-size="10.0" text-anchor="start" font-weight="normal" fill="#111111" stroke="#111111" stroke-width="0.22">empty</text>
<rect x="434.8" y="401.35" width="10.8" height="4.8" fill="#5c5c5c" stroke="#444444" stroke-width="1"/>
<text transform="translate(449 406.95) scale(0.94 1)" font-size="10.0" text-anchor="start" font-weight="normal" fill="#111111" stroke="#111111" stroke-width="0.22">sh1</text>
<rect x="434.8" y="414.10" width="10.8" height="4.8" fill="url(#hE)" stroke="#7c7c7c" stroke-width="1"/>
<text transform="translate(449 419.7) scale(0.94 1)" font-size="10.0" text-anchor="start" font-weight="normal" fill="#111111" stroke="#111111" stroke-width="0.22">empty + VPA</text>
<rect x="434.8" y="426.85" width="10.8" height="4.8" fill="url(#hS)" stroke="#444444" stroke-width="1"/>
<text transform="translate(449 432.45) scale(0.94 1)" font-size="10.0" text-anchor="start" font-weight="normal" fill="#111111" stroke="#111111" stroke-width="0.22">sh1 + VPA</text>
</svg>
</body></html>
